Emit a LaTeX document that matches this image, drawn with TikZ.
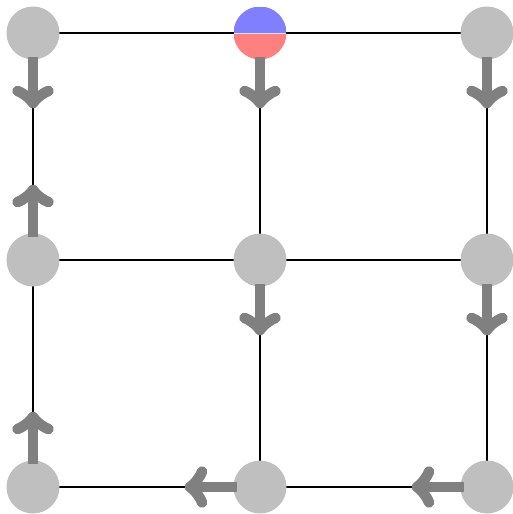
\documentclass[tikz,border=0pt]{standalone}
\definecolor{nodegray}{HTML}{BFBFBF}
\definecolor{arrgray}{HTML}{808080}
\definecolor{halfblue}{HTML}{8080FF}
\definecolor{halfred}{HTML}{FF8080}
\tikzset{
  dot/.style={circle, fill=nodegray, minimum size=53pt, inner sep=0pt, outer sep=0pt},
  grid/.style={line width=1.5pt, black},
  shaft/.style={line width=10.5pt, arrgray, line cap=butt},
  headstroke/.style={line width=10.5pt, arrgray, line cap=round, line join=round}
}
\newcommand\flowarrow[2]{%
  \begin{scope}[shift={(#1)}, rotate=#2, x=1pt, y=1pt]
    \draw[shaft] (-3,0) -- (40,0);
    \draw[headstroke] (31.5,15.5) .. controls (33.5,9.5) and (40,2) .. (43.5,0)
      .. controls (40,-2) and (33.5,-9.5) .. (31.5,-15.5);
  \end{scope}}
\begin{document}
\begin{tikzpicture}[x=1pt, y=-1pt]
\useasboundingbox (0,0) rectangle (513,514);
% grid lines
\draw[grid] (33,33) -- (487,33) -- (487,487) -- (33,487) -- cycle;
\draw[grid] (260,33) -- (260,487);
\draw[grid] (33,260) -- (487,260);
% nodes
\node[dot] (n11) at (33,33) {};
\node[circle, minimum size=53pt, inner sep=0pt, outer sep=0pt,
  path picture={
    \fill[halfblue] (path picture bounding box.north west) rectangle (path picture bounding box.east);
    \fill[halfred] (path picture bounding box.west) rectangle (path picture bounding box.south east);
    \draw[line width=0.8pt, white!75!gray] (path picture bounding box.west) -- (path picture bounding box.east);
  }] (n12) at (260,33) {};
\node[dot] (n13) at (487,33) {};
\node[dot] (n21) at (33,260) {};
\node[dot] (n22) at (260,260) {};
\node[dot] (n23) at (487,260) {};
\node[dot] (n31) at (33,487) {};
\node[dot] (n32) at (260,487) {};
\node[dot] (n33) at (487,487) {};
% arrows
\flowarrow{n11.south}{-90}
\flowarrow{n12.south}{-90}
\flowarrow{n13.south}{-90}
\flowarrow{n21.north}{90}
\flowarrow{n22.south}{-90}
\flowarrow{n23.south}{-90}
\flowarrow{n31.north}{90}
\flowarrow{n32.west}{180}
\flowarrow{n33.west}{180}
\end{tikzpicture}
\end{document}
